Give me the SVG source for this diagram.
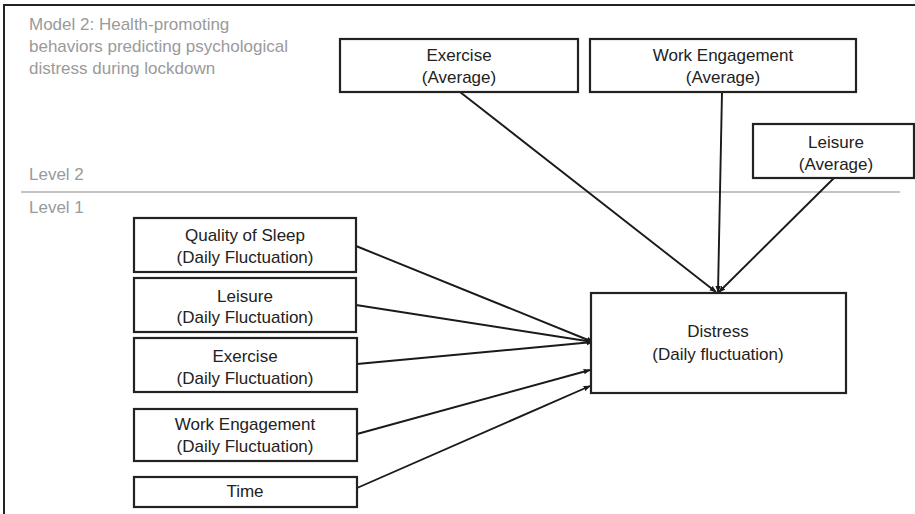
<svg xmlns="http://www.w3.org/2000/svg" width="915" height="514" viewBox="0 0 915 514">
<defs>
<style>
.box{fill:#fff;stroke:#222;stroke-width:2.2}
.t{font-family:"Liberation Sans",Arial,sans-serif;font-size:17px;fill:#222;text-anchor:middle}
.g{font-family:"Liberation Sans",Arial,sans-serif;font-size:17px;fill:#9a9a9a}
.c{stroke:#1a1a1a;stroke-width:1.9;fill:none;marker-end:url(#ah)}
</style>
<marker id="ah" viewBox="0 0 10 10" refX="9" refY="5" markerWidth="7" markerHeight="7" markerUnits="userSpaceOnUse" orient="auto">
<path d="M0,1 L10,5 L0,9 z" fill="#1a1a1a"/>
</marker>
</defs>
<rect x="0" y="0" width="915" height="514" fill="#fff"/>
<rect x="4" y="5" width="930" height="530" fill="none" stroke="#222" stroke-width="2"/>
<g id="title">
<text class="g" x="29" y="30">Model 2: Health-promoting</text>
<text class="g" x="29" y="52">behaviors predicting psychological</text>
<text class="g" x="29" y="74">distress during lockdown</text>
</g>
<g id="levels">
<text class="g" x="29" y="180">Level 2</text>
<line x1="21" y1="192" x2="900" y2="192" stroke="#8a8a8a" stroke-width="1.2"/>
<text class="g" x="29" y="213">Level 1</text>
</g>
<g id="connectors">
<line class="c" x1="460" y1="92" x2="716" y2="292"/>
<line class="c" x1="722" y1="92" x2="718" y2="292"/>
<line class="c" x1="834" y1="178" x2="719" y2="292"/>
<line class="c" x1="356" y1="246" x2="593" y2="342"/>
<line class="c" x1="356" y1="305" x2="593" y2="342"/>
<line class="c" x1="357" y1="364" x2="593" y2="342"/>
<line class="c" x1="357" y1="434" x2="590" y2="370"/>
<line class="c" x1="357" y1="488" x2="590" y2="386"/>
</g>
<g id="exercise-avg">
<rect class="box" x="340" y="39" width="238" height="53"/>
<text class="t" x="459" y="61">Exercise</text>
<text class="t" x="459" y="83">(Average)</text>
</g>
<g id="work-avg">
<rect class="box" x="590" y="39" width="266" height="53"/>
<text class="t" x="723" y="61">Work Engagement</text>
<text class="t" x="723" y="83">(Average)</text>
</g>
<g id="leisure-avg">
<rect class="box" x="753" y="124" width="161" height="54"/>
<text class="t" x="836" y="148">Leisure</text>
<text class="t" x="836" y="170">(Average)</text>
</g>
<g id="sleep-daily">
<rect class="box" x="134" y="218" width="222" height="54"/>
<text class="t" x="245" y="241">Quality of Sleep</text>
<text class="t" x="245" y="263">(Daily Fluctuation)</text>
</g>
<g id="leisure-daily">
<rect class="box" x="134" y="278" width="222" height="54"/>
<text class="t" x="245" y="302">Leisure</text>
<text class="t" x="245" y="323">(Daily Fluctuation)</text>
</g>
<g id="exercise-daily">
<rect class="box" x="134" y="338" width="223" height="54"/>
<text class="t" x="245" y="362">Exercise</text>
<text class="t" x="245" y="384">(Daily Fluctuation)</text>
</g>
<g id="work-daily">
<rect class="box" x="134" y="409" width="223" height="52"/>
<text class="t" x="245" y="430">Work Engagement</text>
<text class="t" x="245" y="452">(Daily Fluctuation)</text>
</g>
<g id="time">
<rect class="box" x="134" y="477" width="223" height="30"/>
<text class="t" x="245" y="497">Time</text>
</g>
<g id="distress">
<rect class="box" x="591" y="293" width="255" height="100"/>
<text class="t" x="718" y="337">Distress</text>
<text class="t" x="718" y="360">(Daily fluctuation)</text>
</g>
</svg>
